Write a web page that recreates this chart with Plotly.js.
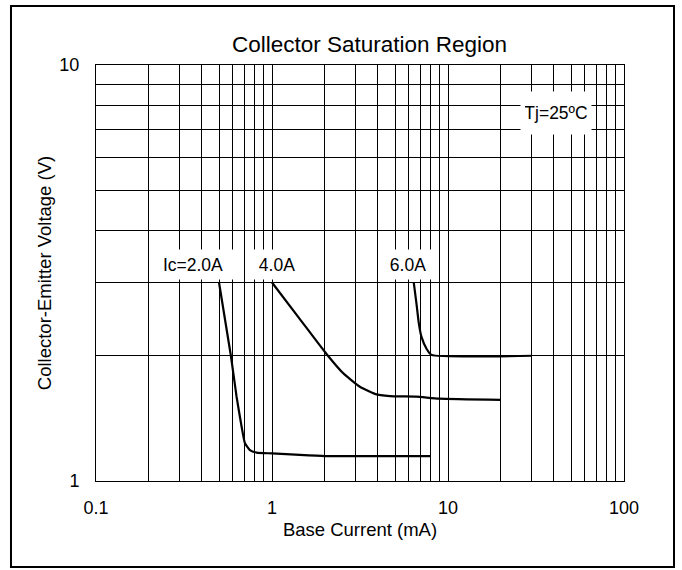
<!DOCTYPE html>
<html>
<head>
<meta charset="utf-8">
<script src="https://cdn.plot.ly/plotly-3.0.1.min.js"></script>
<style>html,body{margin:0;padding:0;background:#fff;}#chart{width:682px;height:570px;}</style>
</head>
<body>
<div id="chart"></div>
<script>
// Ic = 2.0A
var x2 = [0.5, 0.584, 0.629, 0.672, 0.702, 0.749, 0.818, 1.0, 1.44, 2.0, 8];
var y2 = [3.0, 2.0, 1.595, 1.35, 1.232, 1.187, 1.17, 1.165, 1.155, 1.148, 1.147];
// Ic = 4.0A
var x4 = [1.0, 1.44, 2.04, 2.54, 3.16, 3.84, 4.67, 6.6, 8.9, 20];
var y4 = [3.0, 2.45, 2.02, 1.815, 1.685, 1.62, 1.60, 1.595, 1.577, 1.566];
// Ic = 6.0A
var x6 = [6.39, 6.62, 6.83, 7.07, 7.55, 8.06, 30];
var y6 = [3.0, 2.67, 2.39, 2.22, 2.08, 2.01, 2.0];

var xTickVals = [0.1,0.2,0.3,0.4,0.5,0.6,0.7,0.8,0.9,1,2,3,4,5,6,7,8,9,10,20,30,40,50,60,70,80,90,100];
var xTickText = ['0.1','','','','','','','','','1','','','','','','','','','10','','','','','','','','','100'];
var yTickVals = [1,2,3,4,5,6,7,8,9,10];
var yTickText = ['1','','','','','','','','','10'];

var labels = ['Ic=2.0A', '4.0A', '6.0A', 'Tj=25ºC'];
var labelX = [0.356, 1.074, 5.92, 40.9];
var labelY = [3.32, 3.32, 3.32, 7.65];

var fontFam = 'Liberation Sans, Arial, sans-serif';
var lineStyle = {color: '#000', width: 2.2, shape: 'spline', smoothing: 0.45};

var traces = [
  {x: x2, y: y2, mode: 'lines', line: lineStyle, hoverinfo: 'skip'},
  {x: x4, y: y4, mode: 'lines', line: lineStyle, hoverinfo: 'skip'},
  {x: x6, y: y6, mode: 'lines', line: lineStyle, hoverinfo: 'skip'}
];

var annWidths = [74, 46, 50, 62];
var annHeights = [21, 21, 21, 34];
var annotations = labels.map(function(t, i) {
  return {
    x: Math.log10(labelX[i]), y: Math.log10(labelY[i]), xref: 'x', yref: 'y',
    text: t, showarrow: false, bgcolor: '#fff', borderpad: 4,
    width: annWidths[i], height: annHeights[i],
    font: {family: fontFam, size: 17.5, color: '#000'}
  };
});

var layout = {
  width: 682, height: 570,
  margin: {l: 96, r: 58, t: 65, b: 89},
  paper_bgcolor: '#fff', plot_bgcolor: '#fff',
  showlegend: false,
  font: {family: fontFam, size: 18, color: '#000'},
  title: {text: 'Collector Saturation Region', font: {family: fontFam, size: 22.5, color: '#000'},
          x: 0.518, xref: 'paper', xanchor: 'center', y: 0.923, yref: 'container', yanchor: 'middle'},
  xaxis: {
    type: 'log', range: [-1, 2],
    tickmode: 'array', tickvals: xTickVals, ticktext: xTickText,
    showgrid: true, gridcolor: '#000', gridwidth: 1,
    showline: true, linecolor: '#000', linewidth: 1, mirror: true,
    ticks: '', ticklabelstandoff: 10, zeroline: false,
    tickfont: {family: fontFam, size: 18, color: '#000'},
    title: {text: 'Base Current (mA)', font: {family: fontFam, size: 18.5, color: '#000'}, standoff: 6}
  },
  yaxis: {
    type: 'log', range: [0, 1],
    tickmode: 'array', tickvals: yTickVals, ticktext: yTickText,
    showgrid: true, gridcolor: '#000', gridwidth: 1,
    showline: true, linecolor: '#000', linewidth: 1, mirror: true,
    ticks: '', ticklabelstandoff: 12, zeroline: false,
    tickfont: {family: fontFam, size: 18, color: '#000'},
    title: {text: 'Collector-Emitter Voltage (V)', font: {family: fontFam, size: 18.5, color: '#000'}, standoff: 2}
  },
  annotations: annotations,
  shapes: [{
    type: 'rect', xref: 'paper', yref: 'paper',
    x0: -0.161, x1: 1.0947, y0: -0.2067, y1: 1.1418,
    line: {color: '#000', width: 2}, fillcolor: 'rgba(0,0,0,0)', layer: 'above'
  }]
};

Plotly.newPlot('chart', traces, layout, {staticPlot: true, displayModeBar: false});
</script>
</body>
</html>
